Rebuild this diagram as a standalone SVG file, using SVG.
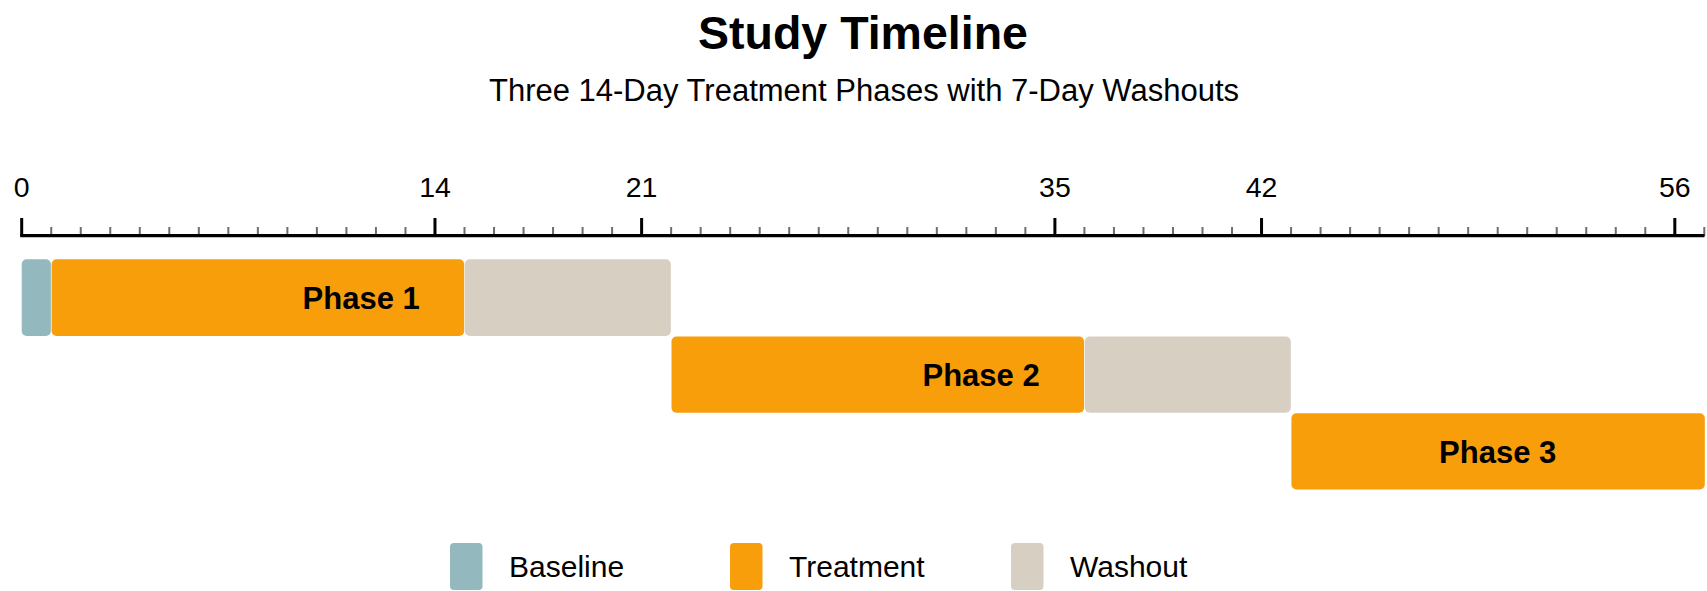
<svg xmlns="http://www.w3.org/2000/svg" width="1707" height="591" viewBox="0 0 1707 591">
  <style>
    text { font-family: "Liberation Sans", Arial, sans-serif; fill: #000; }
    .title { font-size: 46.5px; font-weight: bold; text-anchor: middle; }
    .subtitle { font-size: 31px; text-anchor: middle; }
    .tick-label { font-size: 28.5px; text-anchor: middle; }
    .phase-label { font-size: 31px; font-weight: bold; text-anchor: middle; }
    .legend-label { font-size: 30px; }
    .baseline { fill: #93B9BE; }
    .treatment { fill: #F99E0B; }
    .washout { fill: #D7CFC2; }
    .axis { stroke: #000; stroke-width: 3.3; fill: none; }
    .major { stroke: #000; stroke-width: 3; fill: none; }
    .minor { stroke: #6e6e6e; stroke-width: 2; fill: none; }
  </style>
  <rect x="0" y="0" width="1707" height="591" fill="#fff"/>

  <g id="title">
    <text class="title" x="863" y="49">Study Timeline</text>
    <text class="subtitle" x="864" y="101">Three 14-Day Treatment Phases with 7-Day Washouts</text>
  </g>

  <g id="axis">
    <path class="minor" d="M51.22 227V236M80.74 227V236M110.26 227V236M139.78 227V236M169.3 227V236M198.82 227V236M228.34 227V236M257.86 227V236M287.38 227V236M316.9 227V236M346.42 227V236M375.94 227V236M405.46 227V236M464.5 227V236M494.02 227V236M523.54 227V236M553.06 227V236M582.58 227V236M612.1 227V236M671.14 227V236M700.66 227V236M730.18 227V236M759.7 227V236M789.22 227V236M818.74 227V236M848.26 227V236M877.78 227V236M907.3 227V236M936.82 227V236M966.34 227V236M995.86 227V236M1025.38 227V236M1084.42 227V236M1113.94 227V236M1143.46 227V236M1172.98 227V236M1202.5 227V236M1232.02 227V236M1291.06 227V236M1320.58 227V236M1350.1 227V236M1379.62 227V236M1409.14 227V236M1438.66 227V236M1468.18 227V236M1497.7 227V236M1527.22 227V236M1556.74 227V236M1586.26 227V236M1615.78 227V236M1645.3 227V236M1704.3 227V236"/>
    <path class="major" d="M21.7 218V236M434.98 218V236M641.62 218V236M1054.9 218V236M1261.54 218V236M1674.82 218V236"/>
    <line class="axis" x1="20.2" y1="235.7" x2="1704.5" y2="235.7"/>
    <text class="tick-label" x="21.7" y="197">0</text>
    <text class="tick-label" x="434.98" y="197">14</text>
    <text class="tick-label" x="641.62" y="197">21</text>
    <text class="tick-label" x="1054.9" y="197">35</text>
    <text class="tick-label" x="1261.54" y="197">42</text>
    <text class="tick-label" x="1674.82" y="197">56</text>
  </g>

  <g id="baseline-bar">
    <rect class="baseline" x="21.7" y="259.3" width="29.2" height="76.6" rx="5"/>
  </g>
  <g id="phase-1">
    <rect class="treatment" x="51.6" y="259.3" width="412.6" height="76.6" rx="5"/>
    <rect class="washout" x="464.8" y="259.3" width="206" height="76.6" rx="5"/>
    <text class="phase-label" x="361.2" y="309">Phase 1</text>
  </g>
  <g id="phase-2">
    <rect class="treatment" x="671.5" y="336.6" width="412.6" height="76.1" rx="5"/>
    <rect class="washout" x="1084.8" y="336.6" width="206" height="76.1" rx="5"/>
    <text class="phase-label" x="981.1" y="386">Phase 2</text>
  </g>
  <g id="phase-3">
    <rect class="treatment" x="1291.4" y="413.2" width="413.4" height="76.3" rx="5"/>
    <text class="phase-label" x="1497.7" y="462.7">Phase 3</text>
  </g>

  <g id="connectors"></g>

  <g id="legend">
    <g id="legend-baseline">
      <rect class="baseline" x="450" y="543" width="32.5" height="47" rx="4"/>
      <text class="legend-label" x="509" y="577">Baseline</text>
    </g>
    <g id="legend-treatment">
      <rect class="treatment" x="730" y="543" width="32.5" height="47" rx="4"/>
      <text class="legend-label" x="789" y="577">Treatment</text>
    </g>
    <g id="legend-washout">
      <rect class="washout" x="1011" y="543" width="32.5" height="47" rx="4"/>
      <text class="legend-label" x="1070" y="577">Washout</text>
    </g>
  </g>
</svg>
